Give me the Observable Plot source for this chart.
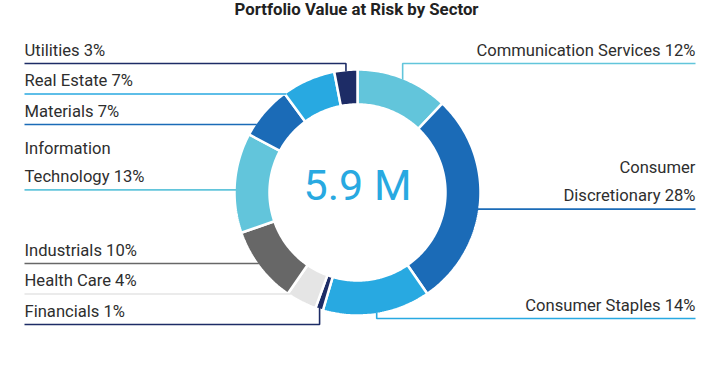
<!DOCTYPE html>
<html><head><meta charset="utf-8">
<script src="https://cdn.jsdelivr.net/npm/d3@7"></script>
<script src="https://cdn.jsdelivr.net/npm/@observablehq/plot@0.6"></script>
<style>
body{margin:0;background:#fff;}
svg{display:block;font-family:Roboto,"Noto Sans",sans-serif;}
</style>
</head><body><div id="chart"></div>
<script>
// ---- data ----
const title = "Portfolio Value at Risk by Sector";
const centerLabel = "5.9 M";
const sectors = ["Communication Services","Consumer Discretionary","Consumer Staples","Financials","Health Care","Industrials","Information Technology","Materials","Real Estate","Utilities"];
const shares = [12, 28, 14, 1, 4, 10, 13, 7, 7, 3];
const labels = ["Communication Services 12%","Consumer\nDiscretionary 28%","Consumer Staples 14%","Financials 1%","Health Care 4%","Industrials 10%","Information\nTechnology 13%","Materials 7%","Real Estate 7%","Utilities 3%"];
const colors = ["#62c5db","#1b6bb7","#28a9e1","#1d2c66","#e5e5e5","#676767","#62c5db","#1b6bb7","#28a9e1","#1d2c66"];

// ---- layout ----
const W = 712, H = 378;
const cx = 357, cy = 192, R = 123, r = 88, Rl = 121.5;
const fontSize = 16.6, rowGap = 30.5, lineHeight = 28;
const leftX = 24, rightX = 695;
const topRow = 63, bottomRow = {left: 324, right: 318};

const rows = sectors.map((s, i) => ({name: s, share: shares[i], label: labels[i], color: colors[i]}));
const arcs = d3.pie().sort(null).value(d => d.share)(rows);

// slice polygons
const slicePts = [];
for (const a of arcs) {
  const n = Math.max(2, Math.ceil((a.endAngle - a.startAngle) / (Math.PI / 180)) + 1);
  for (let i = 0; i < n; i++) {
    const t = a.startAngle + (a.endAngle - a.startAngle) * i / (n - 1);
    slicePts.push({name: a.data.name, color: a.data.color, x: cx + R * Math.sin(t), y: cy - R * Math.cos(t)});
  }
  for (let i = n - 1; i >= 0; i--) {
    const t = a.startAngle + (a.endAngle - a.startAngle) * i / (n - 1);
    slicePts.push({name: a.data.name, color: a.data.color, x: cx + r * Math.sin(t), y: cy - r * Math.cos(t)});
  }
}

// label layout
const items = arcs.map(a => {
  const mid = (a.startAngle + a.endAngle) / 2;
  return {a, mid, side: mid < Math.PI ? "right" : "left", midY: cy - Rl * Math.cos(mid)};
});
for (const side of ["left", "right"]) {
  const s = items.filter(d => d.side === side);
  const top = s.filter(d => d.midY < cy - 60).sort((p, q) => p.midY - q.midY);
  const bot = s.filter(d => d.midY > cy + 60).sort((p, q) => q.midY - p.midY);
  const mid = s.filter(d => d.midY >= cy - 60 && d.midY <= cy + 60);
  top.forEach((d, i) => d.lineY = topRow + i * rowGap);
  bot.forEach((d, i) => d.lineY = bottomRow[side] - i * rowGap);
  mid.forEach(d => d.lineY = d.midY + 7);
}
const leaderPts = [];
const textRows = [];
for (const d of items) {
  const {a} = d;
  const tx = d.side === "left" ? leftX : rightX;
  const dy = d.lineY - cy;
  let ex, ey, direct = false;
  if (Math.abs(dy) < Rl) {
    const h = Math.sqrt(Rl * Rl - dy * dy);
    const x = d.side === "left" ? cx - h : cx + h;
    let ang = Math.atan2(x - cx, -dy);
    if (ang < 0) ang += 2 * Math.PI;
    if (ang >= a.startAngle && ang <= a.endAngle) { ex = x; ey = d.lineY; direct = true; }
  }
  if (!direct) { ex = cx + Rl * Math.sin(d.mid); ey = cy - Rl * Math.cos(d.mid); }
  leaderPts.push({name: a.data.name, color: a.data.color, x: tx, y: d.lineY});
  leaderPts.push({name: a.data.name, color: a.data.color, x: ex, y: d.lineY});
  leaderPts.push({name: a.data.name, color: a.data.color, x: ex, y: ey});
  textRows.push({label: a.data.label, x: tx, y: d.lineY - 8, anchor: d.side === "left" ? "start" : "end"});
}

const chart = Plot.plot({
  width: W, height: H,
  margin: 0,
  x: {domain: [0, W], range: [0, W], axis: null},
  y: {domain: [0, H], range: [0, H], axis: null},
  color: {type: "identity"},
  style: {fontFamily: "Roboto, sans-serif", background: "#fff"},
  marks: [
    Plot.line(slicePts, {x: "x", y: "y", z: "name", fill: "color", stroke: "#fff", strokeWidth: 2.5, strokeLinejoin: "miter", curve: "linear-closed"}),
    Plot.line(leaderPts, {x: "x", y: "y", z: "name", stroke: "color", strokeWidth: 1.6, strokeLinecap: "butt", strokeLinejoin: "miter"}),
    Plot.text(textRows.filter(d => d.anchor === "start"), {x: "x", y: "y", text: "label", textAnchor: "start", lineAnchor: "bottom", lineHeight: lineHeight / fontSize, fontSize, fill: "#2e2e2e"}),
    Plot.text(textRows.filter(d => d.anchor === "end"), {x: "x", y: "y", text: "label", textAnchor: "end", lineAnchor: "bottom", lineHeight: lineHeight / fontSize, fontSize, fill: "#2e2e2e"}),
    Plot.text([centerLabel], {x: () => cx, y: () => cy - 6, text: d => d, fontSize: 43, fill: "#28a9e1", textAnchor: "middle"}),
    Plot.text([title], {frameAnchor: "top", dy: 3, lineAnchor: "top", text: d => d, fontSize: 16.8, fontWeight: "bold", fill: "#222"})
  ]
});
document.getElementById("chart").appendChild(chart);
</script>
</body></html>
